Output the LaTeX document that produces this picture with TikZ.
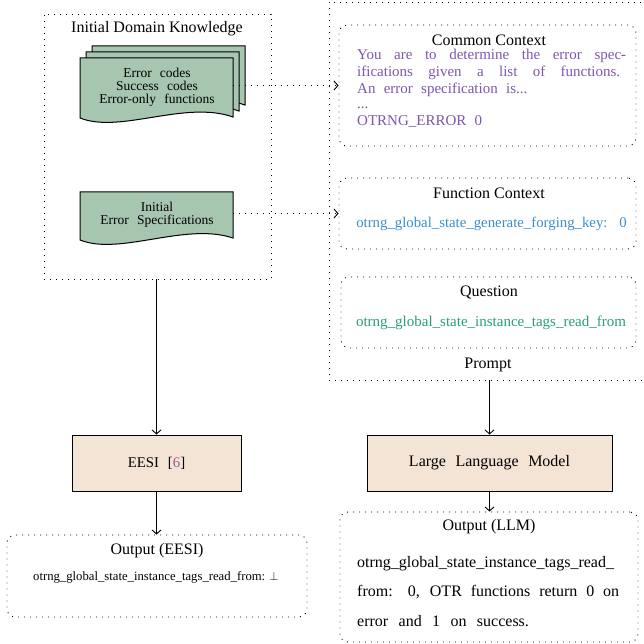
\documentclass[tikz,border=0pt]{standalone}
\usepackage{fontspec}
\setmainfont{Liberation Serif}
\usetikzlibrary{arrows.meta}
\definecolor{docgreen}{HTML}{A6C6AF}
\definecolor{boxbeige}{HTML}{F3E4D6}
\definecolor{ccpurple}{HTML}{7D56B0}
\definecolor{fcblue}{HTML}{3A8DD0}
\definecolor{qgreen}{HTML}{2A9D7C}
\definecolor{citepurple}{HTML}{A0559C}
\tikzset{
  dotbox/.style={draw, line width=0.9pt, dash pattern=on 0.9pt off 5.1pt},
  rdotbox/.style={dotbox, rounded corners=8pt},
  docshape/.style={draw, line width=1pt, fill=docgreen},
  procbox/.style={draw, line width=1pt, fill=boxbeige},
  arr/.style={-{Straight Barb[length=4pt,width=9pt,line width=0.9pt]}, line width=1pt},
  dotarr/.style={dotbox, -{Straight Barb[length=4pt,width=9pt,line width=0.9pt,sep=0pt]}},
  ttl/.style={font=\fontsize{16}{19}\selectfont, inner sep=0pt},
  doctxt/.style={font=\fontsize{13.5}{13}\selectfont, inner sep=0pt, align=center},
  ccline/.style={inner sep=0pt, anchor=base west, text=ccpurple, font=\fontsize{15}{18}\selectfont},
  olline/.style={inner sep=0pt, anchor=base west, font=\fontsize{16}{19}\selectfont}
}
\begin{document}
\begin{tikzpicture}[x=1pt,y=-1pt]
\useasboundingbox (0,0) rectangle (643,644);
% left container
\node[dotbox, minimum width=227pt, minimum height=265pt, inner sep=0pt] (idk) at (157.5,146.5) {};
\node[ttl] (idkt) at (157,29) {Initial Domain Knowledge};
% stacked documents
\path[docshape] (92,46) -- (245,46) -- (245,105) .. controls (197,88) and (132,122) .. (92,106) -- cycle;
\path[docshape] (86,52) -- (239,52) -- (239,111) .. controls (191,94) and (126,128) .. (86,112) -- cycle;
\path[docshape] (80,58) -- (233,58) -- (233,117) .. controls (185,100) and (120,134) .. (80,118) -- cycle;
\node[inner sep=0pt, minimum width=153pt, minimum height=60pt] (doc1) at (156.5,88) {};
\node[doctxt] (doc1t) at (157,87) {Error\hspace{0.6em}codes\\Success\hspace{0.6em}codes\\Error-only\hspace{0.6em}functions};
% initial error spec document
\path[docshape] (80,192) -- (233,192) -- (233,238) .. controls (185,222) and (120,256) .. (80,240) -- cycle;
\node[inner sep=0pt, minimum width=153pt, minimum height=48pt] (doc2) at (156.5,216) {};
\node[doctxt] (doc2t) at (157,215) {Initial\\Error\hspace{0.6em}Specifications};
% right container (prompt)
\node[dotbox, minimum width=321pt, minimum height=378pt, inner sep=0pt] (prompt) at (489.5,191) {};
\node[ttl] (promptt) at (488,365) {Prompt};
% common context
\node[rdotbox, minimum width=297pt, minimum height=121pt, inner sep=0pt] (cc) at (487.5,85.5) {};
\node[ttl] (cct) at (489,40) {Common Context};
\node[ccline] (cc1) at (357,60) {\makebox[269pt][s]{You are to determine the error spec-}};
\node[ccline] (cc2) at (357,77) {\makebox[263pt][s]{ifications given a list of functions.}};
\node[ccline] (cc3) at (357,94) {An\hspace{0.55em}error\hspace{0.55em}specification\hspace{0.55em}is...};
\node[ccline] (cc4) at (357,109) {...};
\node[ccline] (cc5) at (357,126) {OTRNG\_ERROR\hspace{0.55em}0};
% function context
\node[rdotbox, minimum width=297pt, minimum height=71pt, inner sep=0pt] (fc) at (487.5,213.5) {};
\node[ttl] (fct) at (489,193) {Function Context};
\node[inner sep=0pt, text=fcblue, font=\fontsize{14.8}{17}\selectfont] (fctx) at (491.5,224) {otrng\_global\_state\_generate\_forging\_key:\hspace{0.8em}0};
% question
\node[rdotbox, minimum width=295pt, minimum height=71pt, inner sep=0pt] (q) at (488.5,312.5) {};
\node[ttl] (qt) at (489,292) {Question};
\node[inner sep=0pt, text=qgreen, font=\fontsize{15}{17}\selectfont] (qtx) at (491,323) {otrng\_global\_state\_instance\_tags\_read\_from};
% EESI
\node[procbox, minimum width=169pt, minimum height=56pt, inner sep=0pt, font=\fontsize{14.8}{17}\selectfont] (eesi) at (156.5,463) {EESI\hspace{0.6em}[\textcolor{citepurple}{6}]};
% LLM
\node[procbox, minimum width=245pt, minimum height=56pt, inner sep=0pt, font=\fontsize{16}{19}\selectfont] (llm) at (489.5,463) {Large\hspace{0.6em}Language\hspace{0.6em}Model};
% Output EESI
\node[rdotbox, minimum width=300pt, minimum height=82pt, inner sep=0pt] (oe) at (157,576) {};
\node[ttl] (oet) at (157,551) {Output (EESI)};
\node[inner sep=0pt, font=\fontsize{12.7}{15}\selectfont] (oetx) at (156,577) {otrng\_global\_state\_instance\_tags\_read\_from: $\bot$};
% Output LLM
\node[rdotbox, minimum width=298pt, minimum height=130pt, inner sep=0pt] (ol) at (489,577) {};
\node[ttl] (olt) at (489,527) {Output (LLM)};
\node[olline] (ol1) at (357,567) {otrng\_global\_state\_instance\_tags\_read\_};
\node[olline] (ol2) at (357,596) {\makebox[262pt][s]{from: 0, OTR functions return 0 on}};
\node[olline] (ol3) at (357,626) {error\hspace{0.65em}and\hspace{0.65em}1\hspace{0.65em}on\hspace{0.65em}success.};
% connectors
\draw[dotarr] (doc1.east |- cc.west) -- (cc.west);
\draw[dotarr] (doc2.east |- fc.west) -- (fc.west);
\draw[arr] (eesi.north |- idk.south) -- (eesi.north);
\draw[arr] (eesi.south) -- (oe.north -| eesi.south);
\draw[arr] (llm.north |- prompt.south) -- (llm.north);
\draw[arr] (llm.south) -- (ol.north -| llm.south);
\end{tikzpicture}
\end{document}
